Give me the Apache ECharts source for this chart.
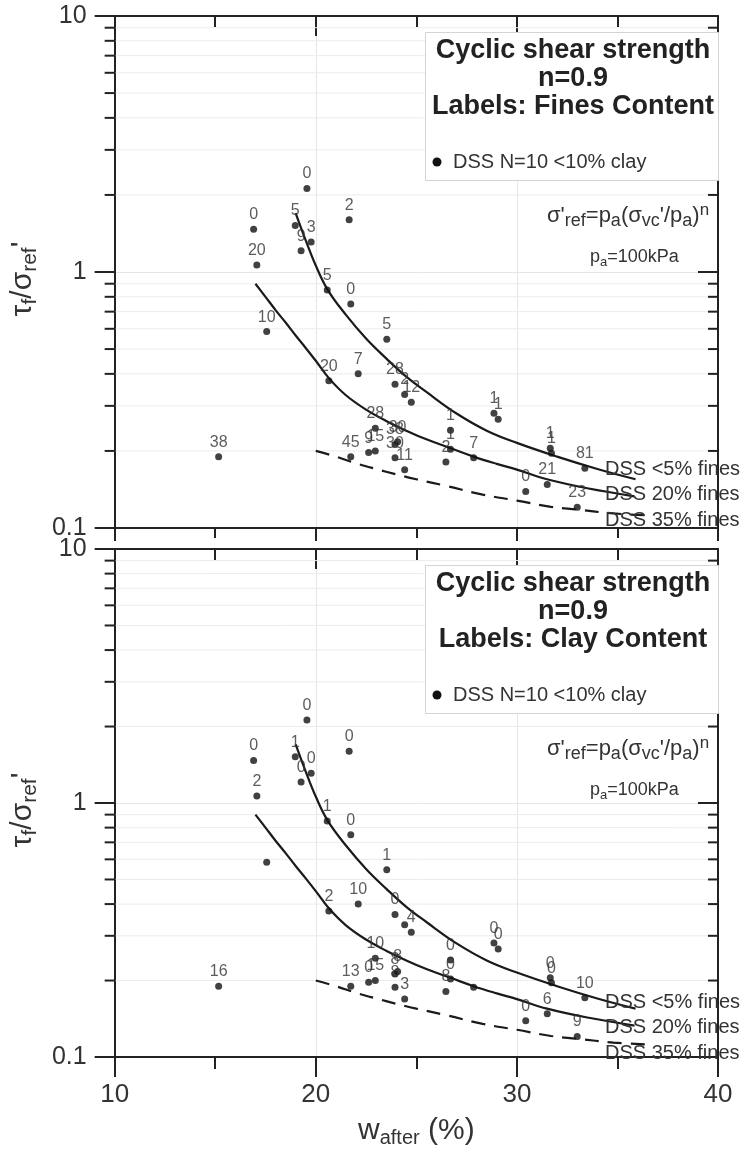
<!DOCTYPE html>
<html><head><meta charset="utf-8">
<script src="https://cdn.jsdelivr.net/npm/echarts@6/dist/echarts.min.js"></script>
<style>html,body{margin:0;padding:0;background:#fff}#c{width:742px;height:1149px}</style>
</head><body><div id="c"></div>
<script>
const FONT = '"Liberation Sans", Arial, Helvetica, sans-serif';

// ---- data ----
const X_MIN = 10, X_MAX = 40, X_INTERVAL = 10;
const Y_MIN = 0.1, Y_MAX = 10;
const yTickLabels = ['0.1', '1', '10'];
const xTickLabels = ['10', '20', '30', '40'];
const yMinorTicks = [0.2, 0.3, 0.4, 0.5, 0.6, 0.7, 0.8, 0.9, 2, 3, 4, 5, 6, 7, 8, 9];

const wAfter = [16.91, 19.56, 18.98, 19.77, 19.27, 21.66, 17.07, 17.56, 20.57, 21.74, 23.53, 20.65, 22.11, 23.94, 24.42, 24.75, 26.70, 28.86, 29.07, 22.96, 24.07, 23.94, 21.74, 22.63, 22.96, 23.94, 24.42, 26.70, 26.47, 27.85, 30.44, 31.51, 31.66, 31.72, 33.38, 33.00, 15.17];
const tauRatio = [1.47, 2.12, 1.52, 1.31, 1.21, 1.60, 1.065, 0.585, 0.85, 0.75, 0.546, 0.376, 0.40, 0.364, 0.332, 0.31, 0.241, 0.281, 0.266, 0.245, 0.217, 0.212, 0.190, 0.197, 0.200, 0.188, 0.169, 0.203, 0.181, 0.188, 0.139, 0.148, 0.205, 0.196, 0.171, 0.1205, 0.190];
const finesLabels = ['0','0','5','3','9','2','20','10','5','0','5','20','7','28','2','12','1','1','1','28','30','38','45','9','15','30','11','1','2','7','0','21','1','1','81','23','38'];
const clayLabels = ['0','0','1','0','0','0','2','','1','0','1','2','10','0','','4','0','0','0','10','8','8','13','0','15','8','3','0','8','','0','6','0','0','10','9','16'];

const curveFines5 = [[19.0,1.70],[19.5,1.33],[20.0,1.06],[20.6,0.85],[21.5,0.68],[22.5,0.55],[23.5,0.46],[24.5,0.39],[25.5,0.34],[27.0,0.28],[28.5,0.24],[30.0,0.215],[32.0,0.19],[34.0,0.17],[35.9,0.155]];
const curveFines20 = [[17.0,0.90],[17.5,0.80],[18.0,0.71],[18.5,0.635],[19.0,0.565],[19.5,0.505],[20.0,0.45],[20.65,0.385],[21.5,0.33],[22.5,0.29],[23.5,0.262],[24.5,0.24],[25.5,0.222],[26.7,0.205],[27.85,0.19],[29.0,0.178],[30.0,0.169],[31.5,0.155],[33.5,0.143],[35.85,0.133]];
const curveFines35 = [[20.0,0.20],[21.0,0.19],[22.0,0.179],[23.0,0.17],[24.0,0.162],[25.0,0.155],[26.5,0.146],[28.3,0.135],[30.0,0.128],[31.7,0.121],[33.0,0.118],[34.8,0.114],[36.5,0.112]];

const curveNames = ['DSS <5% fines', 'DSS 20% fines', 'DSS 35% fines'];
const panelTitles = ['Cyclic shear strength', 'n=0.9'];
const panelLabelLines = ['Labels: Fines Content', 'Labels: Clay Content'];
const legendText = 'DSS N=10 <10% clay';

// ---- layout ----
const GRID_LEFT = 105, GRID_W = 613, GRID_H = 512;
const GRID_TOPS = [16, 549];
const AXIS_COLOR = '#222';

const richYName = {
  m: { fontSize: 30, fontFamily: FONT, color: '#333', lineHeight: 36 },
  s: { fontSize: 21, fontFamily: FONT, color: '#333', lineHeight: 18, verticalAlign: 'bottom' }
};
const richXName = {
  m: { fontSize: 30, fontFamily: FONT, color: '#333', lineHeight: 34 },
  s: { fontSize: 20, fontFamily: FONT, color: '#333', lineHeight: 17, verticalAlign: 'bottom' }
};

const grids = [], xAxes = [], yAxes = [], series = [], graphics = [];

function minorRender(params, api) {
  const v = api.value(1);
  const l = api.coord([X_MIN, v]);
  const r = api.coord([X_MAX, v]);
  return {
    type: 'group',
    children: [
      { type: 'line', shape: { x1: l[0] + 1, y1: l[1], x2: r[0] - 1, y2: r[1] }, style: { stroke: '#ececec', lineWidth: 1 } },
      { type: 'line', shape: { x1: l[0] - 10, y1: l[1], x2: l[0], y2: l[1] }, style: { stroke: AXIS_COLOR, lineWidth: 2 } },
      { type: 'line', shape: { x1: r[0] - 10, y1: r[1], x2: r[0], y2: r[1] }, style: { stroke: AXIS_COLOR, lineWidth: 2 } }
    ]
  };
}

[finesLabels, clayLabels].forEach((labels, i) => {
  const top = GRID_TOPS[i];
  const isBottom = i === 1;
  grids.push({ left: GRID_LEFT, top: top, width: GRID_W, height: GRID_H });

  const baseX = {
    type: 'value', gridIndex: i, min: X_MIN, max: X_MAX, interval: X_INTERVAL,
    axisLine: { show: true, onZero: false, lineStyle: { color: AXIS_COLOR, width: 2 } },
    minorTick: { show: true, splitNumber: 2, length: 11, lineStyle: { color: AXIS_COLOR, width: 2 } },
    minorSplitLine: { show: false }
  };
  xAxes.push(Object.assign({}, baseX, {
    position: 'bottom',
    axisTick: { show: true, inside: false, length: isBottom ? 20 : 13, lineStyle: { color: AXIS_COLOR, width: 2 } },
    minorTick: { show: true, splitNumber: 2, length: isBottom ? 12 : 10, lineStyle: { color: AXIS_COLOR, width: 2 } },
    axisLabel: isBottom ? {
      show: true, fontSize: 26, color: '#333', fontFamily: FONT, margin: 25,
      formatter: v => xTickLabels[Math.round((v - X_MIN) / X_INTERVAL)]
    } : { show: false },
    splitLine: { show: true, lineStyle: { color: '#e6e6e6', width: 1 } },
    name: isBottom ? '{m|w}{s|after}{m| (%)}' : '',
    nameLocation: 'middle', nameGap: 57,
    nameTextStyle: { rich: richXName }
  }));
  xAxes.push(Object.assign({}, baseX, {
    position: 'top',
    axisTick: { show: true, inside: true, length: 20, lineStyle: { color: AXIS_COLOR, width: 2 } },
    axisLabel: { show: false },
    splitLine: { show: false }
  }));

  const baseY = {
    type: 'log', logBase: 10, gridIndex: i, min: Y_MIN, max: Y_MAX,
    axisLine: { show: true, onZero: false, lineStyle: { color: AXIS_COLOR, width: 2 } }
  };
  yAxes.push(Object.assign({}, baseY, {
    position: 'left',
    axisTick: { show: true, inside: false, length: 20, lineStyle: { color: AXIS_COLOR, width: 2 } },
    axisLabel: {
      show: true, fontSize: 25, color: '#333', fontFamily: FONT, margin: 28,
      formatter: v => yTickLabels[Math.round(Math.log10(v)) + 1]
    },
    splitLine: { show: true, lineStyle: { color: '#e6e6e6', width: 1 } },
    name: '{m|τ}{s|f}{m|/σ}{s|ref}{m|\'}',
    nameLocation: 'middle', nameGap: 31, nameRotate: 90,
    nameTextStyle: { rich: richYName, padding: [0, 14, 0, 0] }
  }));
  yAxes.push(Object.assign({}, baseY, {
    position: 'right',
    axisTick: { show: true, inside: true, length: 20, lineStyle: { color: AXIS_COLOR, width: 2 } },
    axisLabel: { show: false },
    splitLine: { show: false }
  }));

  const xi = 2 * i, yi = 2 * i;

  series.push({
    type: 'custom', xAxisIndex: xi, yAxisIndex: yi, clip: false, z: 1, silent: true,
    data: yMinorTicks.map(v => [X_MIN, v]),
    renderItem: minorRender
  });

  [curveFines5, curveFines20, curveFines35].forEach((c, k) => {
    series.push({
      type: 'line', name: curveNames[k], xAxisIndex: xi, yAxisIndex: yi,
      data: c, smooth: 0.4, showSymbol: false, silent: true, z: 3,
      lineStyle: { color: '#1a1a1a', width: 2.2, type: k === 2 ? [14, 9] : 'solid' }
    });
  });

  series.push({
    type: 'scatter', xAxisIndex: xi, yAxisIndex: yi, z: 4,
    symbol: 'circle', symbolSize: 7,
    itemStyle: { color: '#111' },
    data: wAfter.map((w, j) => [w, tauRatio[j], labels[j]]),
    label: {
      show: true, position: 'top', distance: 3,
      formatter: p => p.value[2],
      fontSize: 16, color: '#333', fontFamily: FONT
    }
  });

  // legend box
  const by = top + 16;
  graphics.push({
    type: 'rect', left: 425, top: by, z: 50,
    shape: { width: 293, height: 148 },
    style: { fill: '#fff', stroke: '#d4d4d4', lineWidth: 1 }
  });
  [panelTitles[0], panelTitles[1], panelLabelLines[i]].forEach((t, k) => {
    graphics.push({
      type: 'text', z: 51, x: 573, y: by + 19 + 28 * k,
      style: { text: t, font: 'bold 27px ' + FONT, fill: '#222', align: 'center', verticalAlign: 'middle' }
    });
  });
  graphics.push({
    type: 'circle', z: 51, shape: { cx: 437, cy: by + 130, r: 4.5 }, style: { fill: '#111' }
  });
  graphics.push({
    type: 'text', z: 51, x: 453, y: by + 130,
    style: { text: legendText, font: '20px ' + FONT, fill: '#333', align: 'left', verticalAlign: 'middle' }
  });

  // formula annotations
  graphics.push({
    type: 'text', z: 51, x: 547, y: top + 200,
    style: {
      text: '{m|σ\'}{s|ref}{m|=p}{s|a}{m|(σ}{s|vc}{m|\'/p}{s|a}{m|)}{u|n}',
      align: 'left', verticalAlign: 'middle',
      rich: {
        m: { fontSize: 22, fontFamily: FONT, fill: '#333', lineHeight: 28 },
        s: { fontSize: 18, fontFamily: FONT, fill: '#333', lineHeight: 15, verticalAlign: 'bottom' },
        u: { fontSize: 17, fontFamily: FONT, fill: '#333', lineHeight: 15, verticalAlign: 'top' }
      }
    }
  });
  graphics.push({
    type: 'text', z: 51, x: 590, y: top + 241,
    style: {
      text: '{m|p}{s|a}{m|=100kPa}',
      align: 'left', verticalAlign: 'middle',
      rich: {
        m: { fontSize: 18, fontFamily: FONT, fill: '#333', lineHeight: 24 },
        s: { fontSize: 13, fontFamily: FONT, fill: '#333', lineHeight: 12, verticalAlign: 'bottom' }
      }
    }
  });

  // curve labels
  curveNames.forEach((n, k) => {
    graphics.push({
      type: 'text', z: 51, x: 605, y: top + 453 + 25.5 * k,
      style: { text: n, font: '20px ' + FONT, fill: '#333', align: 'left', verticalAlign: 'middle' }
    });
  });
});

const chart = echarts.init(document.getElementById('c'), null, { renderer: 'canvas' });
chart.setOption({
  backgroundColor: '#fff',
  animation: false,
  textStyle: { fontFamily: FONT },
  grid: grids,
  xAxis: xAxes,
  yAxis: yAxes,
  series: series,
  graphic: graphics
});
</script></body></html>
